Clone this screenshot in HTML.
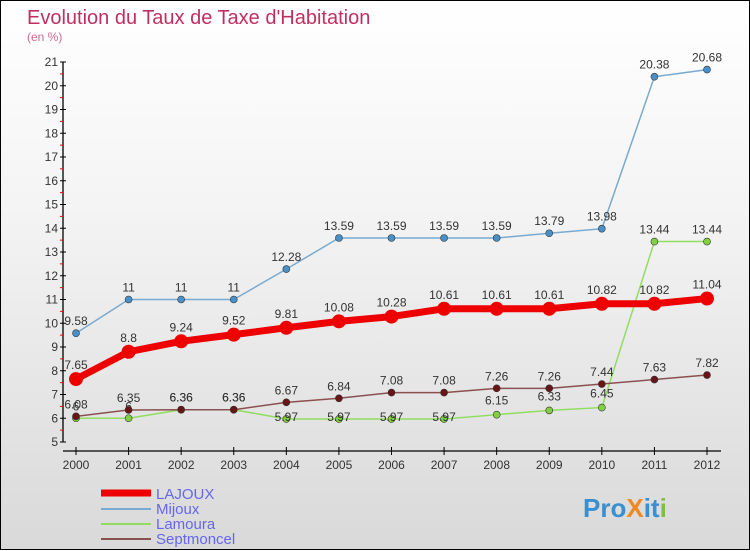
<!DOCTYPE html>
<html><head><meta charset="utf-8"><style>
body{margin:0;width:750px;height:550px;overflow:hidden;font-family:"Liberation Sans",sans-serif}
#wrap{position:relative;width:748px;height:548px;border:1px solid #000;background:linear-gradient(#fff,#f3f3f3 40%,#d9d9d9)}
svg{position:absolute;left:0;top:0}
</style></head><body>
<div id="wrap">
<svg id="chart" width="750" height="550">
<text x="26" y="23" font-size="20" fill="#c0305f">Evolution du Taux de Taxe d'Habitation</text>
<text x="26" y="40" font-size="12" fill="#d06a8c">(en %)</text>
<g id="axes"></g><g id="series"></g>
<g>
<line x1="100" y1="492" x2="150" y2="492" stroke="#e00" stroke-width="7"/>
<text x="155" y="498" font-size="15" fill="#6666ee">LAJOUX</text>
<line x1="100" y1="508" x2="150" y2="508" stroke="#7aaad0" stroke-width="2"/>
<text x="155" y="513" font-size="15" fill="#6666ee">Mijoux</text>
<line x1="100" y1="523" x2="150" y2="523" stroke="#90dd60" stroke-width="2"/>
<text x="155" y="528" font-size="15" fill="#6666ee">Lamoura</text>
<line x1="100" y1="538" x2="150" y2="538" stroke="#8a5050" stroke-width="2"/>
<text x="155" y="543" font-size="15" fill="#6666ee">Septmoncel</text>
</g>
<text x="582" y="516" font-size="26" font-weight="bold"><tspan fill="#3a8fd0">Pro</tspan><tspan fill="#f08a20">X</tspan><tspan fill="#3a8fd0">it</tspan><tspan fill="#80c040">i</tspan></text>
</svg></div>
<script>
const years=[2000,2001,2002,2003,2004,2005,2006,2007,2008,2009,2010,2011,2012];
const yTicks=[5,6,7,8,9,10,11,12,13,14,15,16,17,18,19,20,21];
const lajoux=[7.65,8.8,9.24,9.52,9.81,10.08,10.28,10.61,10.61,10.61,10.82,10.82,11.04];
const mijoux=[9.58,11,11,11,12.28,13.59,13.59,13.59,13.59,13.79,13.98,20.38,20.68];
const lamoura=[6,6,6.36,6.36,5.97,5.97,5.97,5.97,6.15,6.33,6.45,13.44,13.44];
const septmoncel=[6.08,6.35,6.36,6.36,6.67,6.84,7.08,7.08,7.26,7.26,7.44,7.63,7.82];
const NS="http://www.w3.org/2000/svg";
const X=i=>75+i*(706-75)/(years.length-1);
const Y=v=>441-(v-5)*(441-61)/16;
function mk(p,t,a){const e=document.createElementNS(NS,t);for(const k in a)e.setAttribute(k,a[k]);p.appendChild(e);return e;}
const ax=document.getElementById('axes');
let l=mk(ax,'line',{x1:62,y1:61,x2:62,y2:441,stroke:'#000','stroke-width':1.3});


l=mk(ax,'line',{x1:62,y1:450,x2:720,y2:450,stroke:'#000','stroke-width':1.3});


yTicks.forEach(v=>{const y=Y(v);mk(ax,'line',{x1:59,y1:y,x2:65,y2:y,stroke:'#000'});
if(v<21)mk(ax,'line',{x1:59,y1:Y(v+0.5),x2:62,y2:Y(v+0.5),stroke:'#f00'});
const t=mk(ax,'text',{x:57,y:y+4,'font-size':12,'text-anchor':'end',fill:'#333'});t.textContent=v;

});
years.forEach((yr,i)=>{const x=X(i);mk(ax,'line',{x1:x,y1:446,x2:x,y2:454,stroke:'#000'});
const t=mk(ax,'text',{x:x,y:468,'font-size':12,'text-anchor':'middle',fill:'#333'});t.textContent=yr;

});
const sg=document.getElementById('series');
function series(name,data,color,w,r,fill,off){
const g=mk(sg,'g',{});


mk(g,'polyline',{points:data.map((v,i)=>X(i)+','+Y(v)).join(' '),fill:'none',stroke:color,'stroke-width':w,'stroke-linejoin':'round'});
data.forEach((v,i)=>{const c=mk(g,'circle',{cx:X(i),cy:Y(v),r:r,fill:fill,stroke:'#333','stroke-width':r>5?0:0.6});


const t=mk(g,'text',{x:X(i),y:Y(v)+off(i),'font-size':12,'text-anchor':'middle',fill:'#333'});t.textContent=v;

});}
series('mijoux',mijoux,'#7aaad0',1.5,3.5,'#4a90c8',()=>-8);
series('lamoura',lamoura,'#90dd60',1.5,3.5,'#80d040',i=>(i>=4&&i<=7)?2:(i>=8&&i<=10?-10:-8));
series('septmoncel',septmoncel,'#8a5050',1.5,3.5,'#6a1515',()=>-8);
series('lajoux',lajoux,'#e00',7,7,'#e00',()=>-10);
</script>
</body></html>
